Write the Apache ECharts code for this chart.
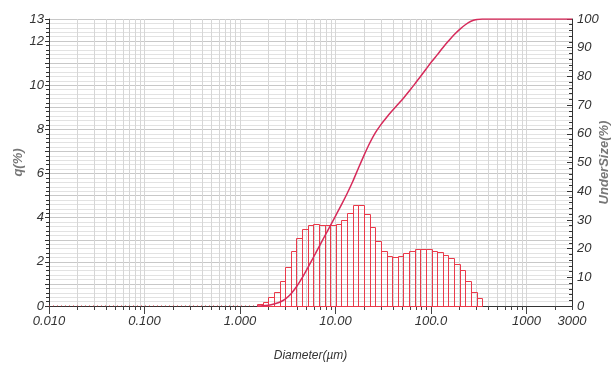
<!DOCTYPE html>
<html><head><meta charset="utf-8">
<script src="https://cdn.jsdelivr.net/npm/echarts@6/dist/echarts.min.js"></script>
<style>html,body{margin:0;padding:0;background:#fff}#c{width:611px;height:365px}</style>
</head><body><div id="c"></div>
<script>
// Channel edges (µm)
const binEdges = [1.510,1.729,1.981,2.269,2.599,2.976,3.409,3.905,4.472,5.122,5.867,6.720,7.697,8.816,10.097,11.565,13.246,15.172,17.377,19.904,22.797,26.111,29.907,34.255,39.234,44.938,51.471,58.953,67.523,77.339,88.583,101.46,116.21,133.10,152.45,174.61,200.00,229.07,262.37,300.52,344.21];
// q (%) per channel
const qValues = [0.08,0.2,0.39,0.62,1.15,1.78,2.48,3.09,3.49,3.65,3.70,3.65,3.65,3.65,3.70,3.89,4.23,4.57,4.57,4.17,3.56,2.96,2.49,2.26,2.20,2.26,2.39,2.49,2.58,2.58,2.58,2.49,2.46,2.31,2.19,1.90,1.63,1.15,0.63,0.38];
// Undersize (%) at each channel edge
const underSize = [0,0.1,0.3,0.7,1.3,2.4,4.2,6.7,9.8,13.3,16.9,20.6,24.3,27.9,31.6,35.3,39.2,43.4,48.0,52.5,56.7,60.3,63.2,65.7,68.0,70.2,72.4,74.8,77.3,79.9,82.5,85.1,87.5,90.0,92.3,94.5,96.4,98.0,99.2,99.8,100];
const underSizeTail = [[3000,100]];
const zeroRange = [0.01, 1.510];
const xLabelValues = [0.01,0.1,1,10,100,1000,3000];
const xLabelTexts = ['0.010','0.100','1.000','10.00','100.0','1000','3000'];
const xGridValues = [];
[0.01,0.1,1,10,100,1000].forEach(d=>{for(let k=1;k<=9;k++){const v=+(d*k).toPrecision(3); if(v<=3000) xGridValues.push(v);}});
xGridValues.push(3000);
const decadeValues = [0.01,0.1,1,10,100,1000];

const histData = qValues.map((q,i)=>[binEdges[i],binEdges[i+1],q]);
const cumData = binEdges.map((e,i)=>[e,underSize[i]]).concat(underSizeTail);

const FONT = "'Liberation Sans Narrow','Liberation Sans',Arial,sans-serif";
const chart = echarts.init(document.getElementById('c'));
chart.setOption({
  animation:false,
  grid:{left:49,right:39,top:19,bottom:59,containLabel:false,outerBoundsMode:'none'},
  xAxis:[{
    type:'log',logBase:10,min:0.01,max:3000,
    axisLine:{lineStyle:{color:'#333',width:1}},
    axisTick:{customValues:xGridValues,length:4,lineStyle:{color:'#444'}},
    splitLine:{show:true,lineStyle:{color:'#d6d6d6',width:1}},
    axisLabel:{customValues:xLabelValues,margin:9,fontSize:13,fontStyle:'italic',fontFamily:FONT,color:'#333',
      formatter:v=>{const i=xLabelValues.findIndex(x=>Math.abs(x-v)/x<1e-6);return i>=0?xLabelTexts[i]:'';}},
    name:'Diameter(µm)',nameLocation:'middle',nameGap:44,nameMoveOverlap:false,
    nameTextStyle:{fontSize:12,fontStyle:'italic',fontFamily:FONT,color:'#333'}
  },{
    type:'log',logBase:10,min:0.01,max:3000,position:'bottom',
    axisLine:{show:false},
    axisTick:{customValues:decadeValues,length:8,lineStyle:{color:'#444'}},
    splitLine:{show:false},axisLabel:{show:false}
  }],
  yAxis:[{
    type:'value',min:0,max:13,interval:1,
    axisLine:{show:true,lineStyle:{color:'#333'}},
    axisTick:{show:true,length:4,lineStyle:{color:'#333'}},
    minorTick:{show:true,splitNumber:5,length:3,lineStyle:{color:'#333'}},
    splitLine:{show:true,lineStyle:{color:'#c8c8c8'}},
    minorSplitLine:{show:true,lineStyle:{color:'#e2e2e2'}},
    axisLabel:{margin:5,fontSize:13,fontStyle:'italic',fontFamily:FONT,color:'#333',
      formatter:v=>(v%2===0||v===13)?String(v):''},
    name:'q(%)',nameLocation:'middle',nameGap:24,nameRotate:90,nameMoveOverlap:false,
    nameTextStyle:{fontSize:13,fontStyle:'italic',fontWeight:'bold',fontFamily:FONT,color:'#777'}
  },{
    type:'value',min:0,max:100,interval:10,position:'right',
    axisLine:{show:true,lineStyle:{color:'#333'}},
    axisTick:{show:true,inside:true,length:5,lineStyle:{color:'#333'}},
    minorTick:{show:true,splitNumber:5,length:3,lineStyle:{color:'#333'}},
    splitLine:{show:false},
    axisLabel:{margin:5,fontSize:13,fontStyle:'italic',fontFamily:FONT,color:'#333'},
    name:'UnderSize(%)',nameLocation:'middle',nameGap:26,nameRotate:90,nameMoveOverlap:false,
    nameTextStyle:{fontSize:13,fontStyle:'italic',fontWeight:'bold',fontFamily:FONT,color:'#777'}
  }],
  series:[{
    type:'line',xAxisIndex:0,yAxisIndex:0,data:zeroRange.map(x=>[x,0]),symbol:'none',
    lineStyle:{color:'#e0303d',width:1,type:[1,3]},z:3
  },{
    type:'custom',xAxisIndex:0,yAxisIndex:0,data:histData,encode:{x:[0,1],y:2},z:4,
    renderItem:(params,api)=>{
      const p0=api.coord([api.value(0),api.value(2)]);
      const p1=api.coord([api.value(1),0]);
      return {type:'rect',shape:{x:Math.round(p0[0])+0.5,y:Math.round(p0[1])+0.5,width:Math.round(p1[0])-Math.round(p0[0]),height:Math.round(p1[1])-Math.round(p0[1])},
        style:{fill:'none',stroke:'#ea3a4a',lineWidth:1}};
    }
  },{
    type:'line',xAxisIndex:0,yAxisIndex:1,data:cumData,symbol:'none',smooth:0.3,
    lineStyle:{color:'#d62a5a',width:1.5},z:5
  }]
});
</script></body></html>
